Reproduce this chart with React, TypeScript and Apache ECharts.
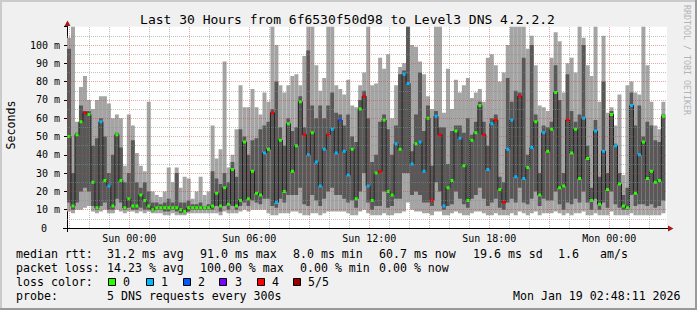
import React, { useEffect, useRef } from "react";
import * as echarts from "echarts";

// ---------- data ----------
// time in hours since Sat 00:00
const AXIS_START = 20.885; // left edge of plot
const AXIS_HOURS = 30;
const DATA_END = 50.803; // Mon 02:48:11

// per time slot: sorted ping values (ms): min, 2nd, median, 4th, max; loss count
const pMin = [
  9, 8, 10, 10, 11, 12, 9, 8, 9, 10, 8, 8, 10, 9, 8, 9, 9, 8, 9, 8,
  9, 8, 8, 8, 7, 7, 8, 7, 7, 7, 8, 8, 8, 8, 8, 8, 8, 8, 7, 9,
  8, 8, 8, 9, 10, 9, 10, 10, 10, 10, 8, 7, 7, 8, 8, 8, 9, 9, 8, 7,
  7, 8, 8, 7, 8, 9, 9, 9, 9, 9, 8, 7, 7, 9, 10, 8, 7, 7, 7, 8,
  7, 7, 8, 8, 9, 14, 10, 9, 9, 8, 8, 7, 9, 9, 7, 7, 8, 9, 8, 7,
  7, 8, 9, 9, 8, 7, 7, 8, 7, 7, 7, 8, 7, 9, 8, 7, 8, 9, 7, 8,
  8, 8, 9, 8, 7, 8, 7, 8, 8, 9, 7, 7, 8, 7, 7, 7, 9, 7, 7, 7,
  7, 8, 7, 7, 7, 7, 7, 7, 7, 8,
];
const pLow = [
  14, 10, 14, 20, 22, 20, 12, 10, 12, 14, 10, 10, 16, 14, 10, 11, 10, 10, 11, 10,
  10, 9, 10, 10, 9, 9, 10, 9, 8, 8, 9, 10, 10, 10, 10, 10, 10, 12, 9, 12,
  10, 12, 10, 12, 14, 12, 15, 14, 13, 16, 16, 12, 11, 16, 14, 18, 18, 18, 22, 13,
  12, 18, 15, 12, 16, 20, 22, 18, 18, 16, 14, 15, 11, 20, 30, 14, 10, 12, 12, 20,
  11, 12, 16, 16, 30, 30, 18, 20, 18, 14, 14, 12, 25, 20, 10, 12, 13, 20, 16, 13,
  11, 16, 18, 22, 16, 12, 14, 16, 11, 10, 14, 16, 14, 22, 14, 13, 16, 20, 12, 16,
  15, 15, 20, 13, 10, 14, 13, 16, 14, 20, 14, 10, 16, 10, 14, 11, 20, 13, 11, 10,
  10, 18, 12, 13, 13, 12, 13, 11, 12, 15,
];
const pMed = [
  50, 12, 51, 58, 63, 62, 25, 11, 58, 26, 23, 12, 51, 26, 11, 16, 12, 12, 18, 15,
  12, 10, 11, 11, 11, 11, 11, 11, 10, 9, 11, 11, 11, 11, 11, 11, 12, 19, 12, 22,
  13, 32, 12, 15, 47, 16, 31, 19, 18, 41, 43, 63, 14, 48, 20, 57, 31, 45, 69, 51,
  40, 52, 36, 23, 43, 51, 54, 41, 59, 42, 29, 43, 16, 65, 72, 23, 15, 30, 31, 59,
  20, 18, 46, 43, 84, 79, 35, 46, 47, 31, 60, 15, 61, 51, 12, 22, 26, 53, 49, 34,
  15, 48, 52, 67, 51, 32, 57, 59, 21, 14, 43, 59, 28, 72, 27, 33, 44, 58, 18, 52,
  42, 54, 74, 22, 23, 59, 41, 54, 27, 60, 38, 15, 53, 13, 42, 21, 62, 45, 24, 12,
  11, 67, 19, 40, 47, 27, 31, 25, 26, 61,
];
const pHigh = [
  98, 30, 52, 67, 64, 64, 45, 49, 60, 50, 30, 40, 52, 44, 25, 30, 48, 25, 22, 25,
  20, 14, 14, 13, 14, 16, 14, 30, 14, 14, 15, 13, 13, 14, 12, 13, 31, 27, 24, 30,
  25, 36, 28, 54, 50, 40, 48, 49, 54, 56, 58, 65, 80, 55, 45, 60, 53, 55, 72, 55,
  97, 67, 60, 67, 60, 67, 74, 63, 62, 56, 62, 50, 47, 70, 75, 60, 36, 40, 58, 62,
  54, 40, 56, 84, 86, 115, 42, 62, 85, 53, 67, 34, 64, 55, 55, 35, 53, 56, 56, 52,
  60, 51, 58, 69, 58, 45, 60, 62, 28, 25, 82, 69, 75, 74, 93, 40, 100, 62, 30, 56,
  55, 58, 89, 70, 30, 84, 64, 58, 62, 100, 45, 22, 59, 28, 80, 30, 64, 46, 30, 18,
  22, 74, 56, 67, 50, 58, 56, 48, 47, 62,
];
const pMax = [
  104, 115, 58, 77, 83, 70, 65, 70, 72, 72, 68, 60, 62, 60, 34, 62, 56, 41, 34, 31,
  69, 20, 18, 17, 20, 33, 25, 33, 22, 28, 27, 16, 20, 28, 18, 20, 56, 38, 43, 91,
  33, 40, 54, 78, 66, 66, 76, 66, 62, 74, 69, 115, 100, 78, 74, 78, 83, 84, 78, 94,
  115, 115, 89, 75, 82, 115, 115, 78, 76, 73, 81, 67, 66, 78, 85, 115, 78, 79, 93, 87,
  95, 60, 78, 88, 90, 115, 100, 99, 91, 84, 72, 65, 115, 115, 63, 87, 65, 81, 74, 78,
  82, 71, 74, 76, 69, 93, 95, 89, 80, 85, 100, 115, 115, 115, 115, 98, 105, 89, 67, 66,
  64, 93, 107, 102, 74, 90, 93, 85, 115, 104, 89, 83, 115, 69, 105, 63, 66, 56, 73, 29,
  78, 80, 74, 73, 115, 89, 69, 56, 54, 69,
];
const pLoss = [
  0, 0, 0, 0, 4, 0, 0, 0, 1, 0, 1, 0, 0, 0, 0, 0, 0, 0, 0, 0,
  0, 0, 0, 0, 0, 0, 0, 0, 0, 0, 0, 0, 0, 0, 0, 0, 0, 0, 0, 0,
  0, 0, 0, 0, 0, 0, 0, 0, 0, 1, 0, 4, 1, 0, 0, 0, 0, 0, 0, 4,
  1, 0, 1, 1, 1, 4, 1, 1, 2, 1, 1, 0, 0, 0, 4, 1, 0, 0, 4, 0,
  0, 0, 1, 0, 1, 1, 1, 0, 1, 1, 0, 4, 1, 4, 1, 0, 0, 0, 1, 0,
  0, 0, 0, 0, 4, 1, 1, 4, 0, 4, 1, 1, 1, 4, 1, 0, 1, 0, 0, 1,
  0, 0, 0, 0, 0, 4, 0, 0, 0, 1, 0, 0, 1, 0, 1, 0, 0, 1, 0, 0,
  0, 1, 0, 1, 0, 0, 0, 0, 0, 0,
];

const xTickHours = [24, 30, 36, 42, 48];
const xTickLabels = ["Sun 00:00", "Sun 06:00", "Sun 12:00", "Sun 18:00", "Mon 00:00"];

const titleText = "Last 30 Hours from 6f6530f50d98 to Level3 DNS 4.2.2.2";
const yName = "Seconds";
const rttHead = "median rtt:";
const rttStats = ["31.2 ms avg", "91.0 ms max", "8.0 ms min", "60.7 ms now", "19.6 ms sd", "1.6", "am/s"];
const lossHead = "packet loss:";
const lossStats = ["14.23 % avg", "100.00 % max", "0.00 % min", "0.00 % now"];
const colorHead = "loss color:";
const lossLabels = ["0", "1", "2", "3", "4", "5/5"];
const lossColors = ["#26ff00", "#00b8ff", "#0059ff", "#7e00ff", "#ff0000", "#9a0000"];
const probeHead = "probe:";
const probeText = "5 DNS requests every 300s";
const stampText = "Mon Jan 19 02:48:11 2026";
const sideText = "RRDTOOL / TOBI OETIKER";

// ---------- layout ----------
const FONT = "'DejaVu Sans Mono', monospace";
const LEG = 11.6;
const rttX = [107, 200, 293, 379, 473, 558, 600];
const lossX = [107, 200, 300, 379];
const boxX = [108, 146, 183, 219, 257, 293];
const boxLabelX = [123, 161, 198, 235, 272, 308];

const N = pMed.length;
const SLOT = (DATA_END - AXIS_START) / N;
const slotStart = pMed.map((_, i) => AXIS_START + i * SLOT);

const smokeData = pMed.map((_, i) => [slotStart[i], pMin[i], pLow[i], pHigh[i], pMax[i]]);
const medianLine = pMed.map((m, i) => [slotStart[i] + SLOT / 2, m]);
const tickData = pMed.map((m, i) => [slotStart[i], m, pLoss[i]]);

const MINOR = "rgba(140,140,140,0.55)";
const MAJOR = "rgba(200,60,60,0.45)";

function buildGrid() {
  const out: any[] = [];
  for (let h = Math.ceil(AXIS_START); h <= AXIS_START + AXIS_HOURS; h++) {
    out.push({ xAxis: h, lineStyle: { color: h % 3 === 0 ? MAJOR : MINOR } });
  }
  for (let v = 5; v <= 105; v += 5) {
    out.push({ yAxis: v, lineStyle: { color: v % 10 === 0 ? MAJOR : MINOR } });
  }
  return out;
}

function txt(x: number, y: number, text: string, extra: any = {}) {
  return {
    type: "text",
    x,
    y,
    silent: true,
    style: {
      text,
      fill: "#000",
      font: `${LEG}px ${FONT}`,
      textVerticalAlign: "middle",
      ...extra,
    },
  };
}

function buildGraphic() {
  const g: any[] = [];
  // 3d border
  g.push({ type: "rect", shape: { x: 0, y: 0, width: 697, height: 2 }, style: { fill: "#cbcbcb" } });
  g.push({ type: "rect", shape: { x: 0, y: 0, width: 2, height: 310 }, style: { fill: "#cbcbcb" } });
  g.push({ type: "rect", shape: { x: 0, y: 308, width: 697, height: 2 }, style: { fill: "#999999" } });
  g.push({ type: "rect", shape: { x: 695, y: 0, width: 2, height: 310 }, style: { fill: "#999999" } });
  // title
  g.push({
    type: "text",
    x: 347.5,
    y: 19,
    style: { text: titleText, font: `13px ${FONT}`, fill: "#000", textAlign: "center", textVerticalAlign: "middle" },
  });
  // y name
  g.push({
    type: "text",
    x: 11,
    y: 125,
    rotation: Math.PI / 2,
    style: { text: yName, font: `${LEG}px ${FONT}`, fill: "#000", textAlign: "center", textVerticalAlign: "middle" },
  });
  // side
  g.push({
    type: "text",
    x: 687,
    y: 60,
    rotation: -Math.PI / 2,
    style: { text: sideText, font: `8.3px ${FONT}`, fill: "#b4b4b4", textAlign: "center", textVerticalAlign: "middle" },
  });
  // axis arrows and extensions
  g.push({ type: "line", shape: { x1: 67.5, y1: 232, x2: 67.5, y2: 24 }, style: { stroke: "#000", lineWidth: 1 } });
  g.push({ type: "line", shape: { x1: 63, y1: 228.5, x2: 669, y2: 228.5 }, style: { stroke: "#000", lineWidth: 1 } });
  g.push({ type: "polygon", shape: { points: [[67.5, 20.5], [64.5, 26], [70.5, 26]] }, style: { fill: "#a31b1b" } });
  g.push({ type: "polygon", shape: { points: [[673.5, 228.5], [668, 225.5], [668, 231.5]] }, style: { fill: "#a31b1b" } });

  // legend line 1
  g.push(txt(16, 254, rttHead));
  rttStats.forEach((s, i) => g.push(txt(rttX[i], 254, s)));
  // line 2
  g.push(txt(16, 268, lossHead));
  lossStats.forEach((s, i) => g.push(txt(lossX[i], 268, s)));
  // line 3
  g.push(txt(16, 282, colorHead));
  lossLabels.forEach((s, i) => {
    g.push({
      type: "rect",
      shape: { x: boxX[i] + 0.5, y: 278.5, width: 7, height: 7 },
      style: { fill: lossColors[i], stroke: "#000", lineWidth: 1 },
    });
    g.push(txt(boxLabelX[i], 282, s));
  });
  // line 4
  g.push(txt(16, 296, probeHead));
  g.push(txt(107, 296, probeText));
  g.push(txt(513, 296, stampText));
  return g;
}

export default function App() {
  const ref = useRef<HTMLDivElement>(null);
  useEffect(() => {
    const chart = echarts.init(ref.current!, undefined, { renderer: "svg" });
    const option: any = {
      animation: false,
      backgroundColor: "#f0f0f0",
      grid: {
        left: 67,
        top: 228 - 110 * 1.83,
        width: 600,
        height: 110 * 1.83,
        show: true,
        backgroundColor: "#ffffff",
        borderWidth: 0,
      },
      xAxis: {
        type: "value",
        min: AXIS_START,
        max: AXIS_START + AXIS_HOURS,
        axisLine: { show: false },
        axisTick: { show: false },
        splitLine: { show: false },
        axisLabel: {
          customValues: xTickHours,
          formatter: (v: number) => {
            const k = xTickHours.findIndex((h) => Math.abs(h - v) < 1e-6);
            return k >= 0 ? xTickLabels[k] : "";
          },
          fontFamily: FONT,
          fontSize: 10,
          color: "#000",
          margin: 5,
        },
      },
      yAxis: {
        type: "value",
        min: 0,
        max: 110,
        interval: 10,
        axisLine: { show: false },
        axisTick: { show: true, length: 3, lineStyle: { color: "#000" } },
        splitLine: { show: false },
        axisLabel: {
          fontFamily: FONT,
          fontSize: 10,
          color: "#000",
          margin: 7,
          formatter: (v: number) => (v === 0 ? "{z|0}" : v >= 110 ? "" : `${v} m`),
          rich: { z: { padding: [0, 13, 0, 0], fontFamily: FONT, fontSize: 10, color: "#000" } },
        },
      },
      graphic: buildGraphic(),
      series: [
        {
          type: "custom",
          z: 2,
          clip: true,
          silent: true,
          encode: { x: 0, y: [1, 2, 3, 4] },
          data: smokeData,
          renderItem: (params: any, api: any) => {
            const t = api.value(0);
            const x0 = api.coord([t, 0])[0];
            const x1 = api.coord([t + SLOT, 0])[0];
            const yMin = api.coord([t, api.value(1)])[1];
            const yLow = api.coord([t, api.value(2)])[1];
            const yHigh = api.coord([t, api.value(3)])[1];
            const yMax = api.coord([t, api.value(4)])[1];
            return {
              type: "group",
              children: [
                { type: "rect", shape: { x: x0, y: yMax, width: x1 - x0, height: yMin - yMax }, style: { fill: "#a4a4a4" } },
                { type: "rect", shape: { x: x0, y: yHigh, width: x1 - x0, height: yLow - yHigh }, style: { fill: "#585858" } },
              ],
            };
          },
        },
        {
          type: "line",
          z: 3,
          silent: true,
          step: "middle",
          showSymbol: false,
          symbol: "none",
          data: medianLine,
          lineStyle: { color: "#202020", width: 1 },
          markLine: {
            silent: true,
            symbol: ["none", "none"],
            label: { show: false },
            lineStyle: { type: [1, 1], width: 1 },
            data: buildGrid(),
          },
        },
        {
          type: "custom",
          z: 4,
          clip: true,
          silent: true,
          encode: { x: 0, y: 1 },
          data: tickData,
          renderItem: (params: any, api: any) => {
            const t = api.value(0);
            const x0 = api.coord([t, 0])[0];
            const y = api.coord([t, api.value(1)])[1];
            const loss = api.value(2);
            return {
              type: "rect",
              shape: { x: x0 + 0.5, y: y - 1.5, width: 3, height: 3 },
              style: { fill: lossColors[loss] },
            };
          },
        },
      ],
    };
    chart.setOption(option);
    return () => chart.dispose();
  }, []);
  return <div ref={ref} style={{ position: "fixed", left: 0, top: 0, width: 697, height: 310 }} />;
}
